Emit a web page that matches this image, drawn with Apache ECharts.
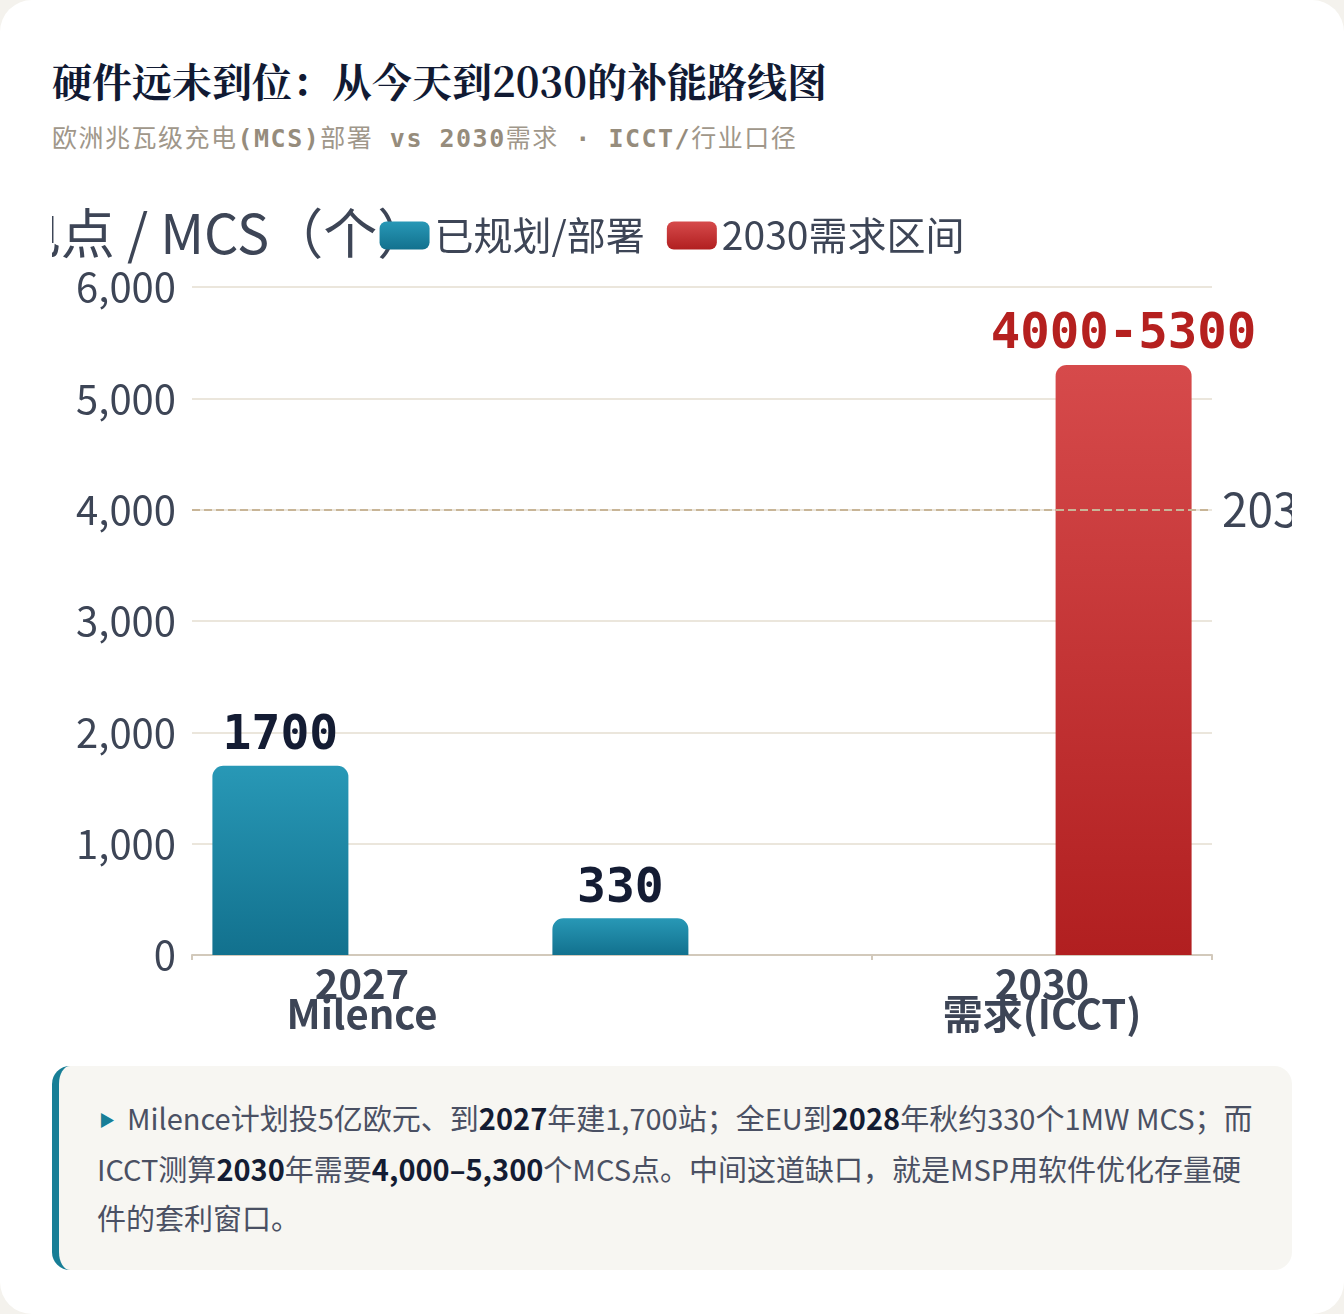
<!DOCTYPE html>
<html>
<head>
<meta charset="utf-8">
<script src="https://cdn.jsdelivr.net/npm/echarts@6/dist/echarts.min.js"></script>
<style>
  html, body { margin: 0; padding: 0; background: #f4f2ed; }
  .card {
    position: relative; width: 1344px; height: 1314px; background: #fff;
    border-radius: 32px; box-sizing: border-box; overflow: hidden;
  }
  .title {
    position: absolute; left: 52px; top: 51px; margin: 0;
    font: 700 40px "Noto Serif CJK SC", "Noto Serif SC", serif; color: #111a33;
  }
  .sub {
    position: absolute; left: 52px; top: 118px;
    font: 400 25px "DejaVu Sans Mono", "Noto Sans CJK SC", monospace; color: #a0978a; letter-spacing: 1.5px;
  }
  .sub b { font-weight: 700; color: #968c7c; }
  #chart { position: absolute; left: 52px; top: 172px; width: 1240px; height: 880px; }
  .note {
    position: absolute; left: 52px; top: 1066px; width: 1240px; height: 204px; box-sizing: border-box;
    background: #f7f6f2; border-left: 7px solid #177e96; border-radius: 18px;
    padding: 27px 36px 0 38px;
    font: 400 29px/49px "Noto Sans CJK SC", sans-serif; color: #4a5063;
  }
  .note b { color: #141c33; font-weight: 700; }
  .note .tri { color: #177e96; font-size: 16px; margin: 0 12px 0 2px; vertical-align: 4px; }
</style>
</head>
<body>
<div class="card">
  <h1 class="title">硬件远未到位：从今天到2030的补能路线图</h1>
  <div class="sub">欧洲兆瓦级充电<b>(MCS)</b>部署 <b>vs 2030</b>需求 <b>·</b> <b>ICCT/</b>行业口径</div>
  <div id="chart"></div>
  <div class="note"><span class="tri">▶</span>Milence计划投5亿欧元、到<b>2027</b>年建1,700站；全EU到<b>2028</b>年秋约330个1MW MCS；而ICCT测算<b>2030</b>年需要<b>4,000–5,300</b>个MCS点。中间这道缺口，就是MSP用软件优化存量硬件的套利窗口。</div>
</div>
<script>
// 类目与数值
const categories = ["2027\nMilence", "2028\n全EU", "2030\n需求(ICCT)"];
const deployed = [1700, 330, null];
const demand = [null, null, 5300];
const demandLow = 4000;
const seriesNames = ["已规划/部署", "2030需求区间"];

const fontSans = '"Noto Sans CJK SC", sans-serif';
const fontMono = '"DejaVu Sans Mono", monospace';

const chart = echarts.init(document.getElementById("chart"));
chart.setOption({
  animation: false,
  legend: {
    top: 39,
    left: "center",
    itemWidth: 50,
    itemHeight: 28,
    itemGap: 22,
    icon: "roundRect",
    textStyle: { fontSize: 39, color: "#3d4556", fontFamily: fontSans },
  },
  grid: { left: 140, right: 80, top: 115, bottom: 97, outerBoundsMode: "none", containLabel: false },
  xAxis: {
    type: "category",
    data: categories,
    axisLine: { lineStyle: { color: "#d2c9bb", width: 2 } },
    axisTick: { show: true, interval: 1, lineStyle: { color: "#d2c9bb", width: 2 } },
    axisLabel: {
      interval: 1,
      fontSize: 40,
      fontWeight: "bold",
      lineHeight: 30,
      margin: 14,
      color: "#3d4556",
      fontFamily: fontSans,
    },
  },
  yAxis: {
    type: "value",
    min: 0,
    max: 6000,
    interval: 1000,
    name: "充电点 / MCS（个）",
    nameGap: 27,
    nameTextStyle: { fontSize: 54, color: "#3d4556", fontFamily: fontSans },
    axisLabel: {
      fontSize: 40,
      color: "#3d4556",
      margin: 16,
      fontFamily: fontSans,
      formatter: (v) => v.toLocaleString("en-US"),
    },
    splitLine: { lineStyle: { color: "#ebe6dc", width: 2 } },
  },
  series: [
    {
      name: seriesNames[0],
      type: "bar",
      data: deployed,
      barWidth: "40%",
      barGap: "20%",
      itemStyle: {
        borderRadius: [11, 11, 0, 0],
        color: new echarts.graphic.LinearGradient(0, 0, 0, 1, [
          { offset: 0, color: "#2898b6" },
          { offset: 1, color: "#12718e" },
        ]),
      },
      label: {
        show: true,
        position: "top",
        distance: 5,
        fontSize: 48,
        fontWeight: "bold",
        fontFamily: fontMono,
        color: "#141c33",
      },
    },
    {
      name: seriesNames[1],
      type: "bar",
      data: demand,
      barWidth: "40%",
      itemStyle: {
        borderRadius: [11, 11, 0, 0],
        color: new echarts.graphic.LinearGradient(0, 0, 0, 1, [
          { offset: 0, color: "#d64a4b" },
          { offset: 1, color: "#b11f20" },
        ]),
      },
      label: {
        show: true,
        position: "top",
        distance: 5,
        fontSize: 49,
        fontWeight: "bold",
        fontFamily: fontMono,
        color: "#b5201f",
        formatter: (p) => demandLow + "-" + p.value,
      },
      markLine: {
        symbol: "none",
        silent: true,
        lineStyle: { color: "#c8b597", type: "dashed", width: 2 },
        label: {
          position: "end",
          fontSize: 46,
          color: "#3d4556",
          fontFamily: fontSans,
          distance: 10,
          formatter: "2030需求下限",
        },
        data: [{ yAxis: demandLow }],
      },
    },
  ],
});
</script>
</body>
</html>
